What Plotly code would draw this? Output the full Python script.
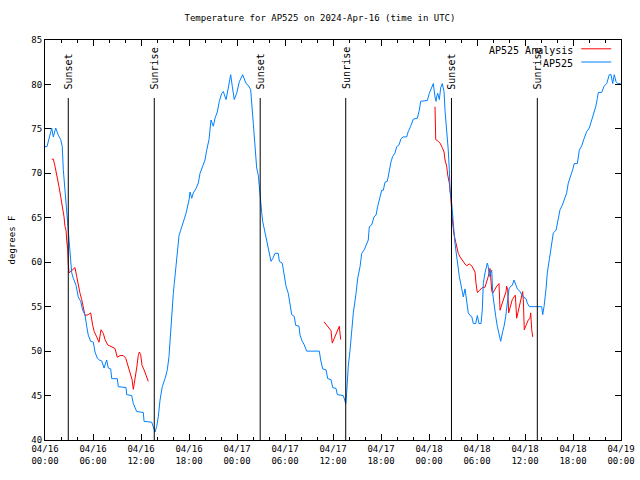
import pandas as pd
import plotly.graph_objects as go

# ---------------- data (hours since 2024-04-16 00:00 UTC) ----------------
obs_hours = [0.00, 0.25, 0.84, 1.04, 1.34, 1.66, 1.96, 2.16, 2.29, 2.50, 2.71, 2.84, 3.04, 3.21, 3.34, 3.54,
             3.88, 4.16, 4.46, 4.71, 5.00, 5.21, 5.41, 5.71, 6.04, 6.25, 6.54, 6.79, 7.09, 7.38, 7.71, 7.91,
             8.21, 8.34, 9.04, 9.16, 10.13, 10.21, 10.84, 11.04, 11.46, 12.29, 12.38, 13.34, 13.54, 13.75,
             13.96, 14.16, 14.38, 14.66, 15.00, 15.29, 15.50, 15.63, 15.75, 15.91, 16.04, 16.16, 16.34, 16.46,
             16.59, 16.75, 16.96, 17.16, 17.41, 17.63, 18.00, 18.13, 18.34, 18.54, 18.88, 19.16, 19.38, 19.71,
             20.00, 20.21, 20.50, 20.75, 21.04, 21.25, 21.54, 21.79, 22.09, 22.29, 22.63, 22.91, 23.21, 23.41,
             23.66, 23.96, 24.29, 24.71, 25.13, 25.41, 25.71, 26.04, 26.25, 26.46, 26.66, 26.88, 27.09, 27.21,
             27.50, 27.79, 28.04, 28.25, 28.46, 28.75, 29.16, 29.29, 29.66, 29.88, 30.13, 30.41, 30.63, 30.84,
             31.16, 31.34, 31.75, 31.88, 32.16, 32.41, 32.71, 34.29, 34.46, 34.71, 35.13, 35.34, 35.75, 35.96,
             36.38, 36.54, 37.29, 37.50, 37.59, 37.71, 37.91, 38.13, 38.34, 38.54, 38.88, 39.09, 39.38, 39.59,
             39.91, 40.13, 40.41, 40.54, 40.84, 41.13, 41.38, 41.59, 41.88, 42.09, 42.29, 42.50, 42.79, 43.04,
             43.25, 43.46, 43.75, 43.96, 44.25, 44.50, 44.79, 45.21, 45.41, 45.71, 46.04, 46.54, 46.79, 46.96,
             47.79, 48.04, 48.34, 48.54, 48.75, 48.88, 48.96, 49.09, 49.29, 49.46, 49.66, 49.88, 50.00, 50.21,
             50.41, 50.54, 50.63, 50.84, 50.96, 51.13, 51.25, 51.54, 51.79, 52.09, 52.29, 52.50, 52.63, 52.71,
             52.91, 53.13, 53.34, 53.54, 53.84, 54.04, 54.25, 54.50, 54.66, 54.79, 55.00, 55.29, 55.41, 55.54,
             55.84, 55.96, 56.13, 56.34, 56.54, 56.75, 56.96, 57.21, 57.38, 57.59, 57.79, 58.00, 58.21, 58.41,
             58.63, 58.84, 59.04, 59.29, 59.59, 59.79, 60.13, 60.29, 60.54, 62.09, 62.21, 62.38, 62.63, 62.79,
             63.04, 63.34, 63.54, 63.88, 64.16, 64.38, 64.66, 65.00, 65.21, 65.41, 65.71, 65.96, 66.16, 66.54,
             66.79, 67.09, 67.38, 67.71, 68.04, 68.34, 68.63, 68.84, 69.04, 69.16, 69.59, 69.88, 70.21, 70.54,
             70.75, 70.96, 71.16, 71.38, 71.59, 71.96]
obs_temps = [73.0, 73.0, 75.1, 74.1, 75.1, 74.3, 73.8, 73.0, 70.4, 68.1, 65.9, 63.9, 62.6, 59.9, 58.8, 58.2,
             57.4, 56.1, 55.6, 54.6, 54.1, 52.8, 51.8, 51.1, 51.0, 49.9, 49.2, 49.0, 48.9, 48.1, 49.0, 48.1,
             48.0, 46.9, 46.9, 46.0, 45.9, 45.1, 45.0, 44.1, 43.2, 43.1, 42.1, 42.0, 41.5, 40.9,
             41.5, 42.6, 44.5, 46.0, 46.9, 47.9, 49.4, 51.3, 53.5, 55.4, 56.5, 57.6, 59.5, 60.6,
             61.8, 63.0, 63.6, 64.2, 64.7, 65.5, 67.0, 67.9, 67.2, 67.8, 68.3, 68.9, 70.0, 70.9,
             71.5, 72.6, 73.8, 76.0, 75.3, 76.2, 76.9, 78.1, 79.0, 79.2, 78.3, 79.6, 81.1, 79.8,
             78.3, 79.0, 80.3, 81.1, 80.1, 79.9, 79.4, 75.6, 73.4, 70.6, 69.8, 67.2, 65.6, 64.6,
             63.4, 62.3, 61.2, 60.1, 60.4, 61.0, 61.0, 60.1, 59.9, 58.8, 57.3, 56.5, 55.4, 54.1,
             53.9, 52.9, 52.8, 51.8, 51.1, 50.7, 50.0, 50.0, 49.0, 48.0, 47.9, 46.9, 46.8, 45.9,
             45.8, 45.1, 45.0, 44.5, 44.1, 45.3, 48.3, 50.1, 52.2, 54.3, 56.5, 58.2, 59.5, 61.0,
             61.4, 61.9, 62.5, 64.0, 64.2, 65.1, 65.3, 66.3, 67.4, 68.1, 68.1, 69.0, 69.1, 70.4,
             71.3, 71.9, 72.3, 73.0, 73.2, 73.9, 74.1, 74.1, 74.7, 75.3, 76.1, 76.2, 77.1, 78.1,
             78.2, 79.0, 79.6, 80.1, 78.6, 78.1, 78.6, 79.0, 78.3, 79.6, 80.1, 79.2, 77.1, 74.9,
             72.6, 70.4, 68.1, 66.6, 64.8, 63.4, 62.1, 59.9, 58.4, 57.0, 56.1, 57.0, 56.3, 55.6,
             54.3, 54.0, 53.9, 53.1, 53.1, 54.0, 53.1, 53.1, 54.6, 57.6, 58.8, 59.9, 59.5, 58.4,
             59.1, 56.5, 55.0, 53.9, 52.8, 52.0, 51.1, 52.2, 52.8, 53.9, 55.8, 57.0, 57.3, 57.4,
             58.0, 57.4, 57.0, 56.8, 56.3, 56.1, 55.9, 55.4, 55.0, 55.0, 54.1, 55.0, 57.0, 58.8,
             60.3, 62.5, 63.3, 63.6, 64.8, 65.9, 66.4, 67.2, 67.8, 68.9, 69.6, 70.4, 71.1, 71.1,
             72.6, 73.1, 73.9, 74.7, 75.1, 76.0, 76.6, 77.5, 78.4, 79.1, 79.1, 79.8, 80.1, 81.1,
             81.1, 80.1, 81.1, 80.3, 80.1, 80.1]

# analysis series (None = gap between segments)
ana_hours = [0.84, 1.04, 1.25, 1.54, 1.75, 1.96, 2.21, 2.38, 2.50, 2.63, 2.71, 2.84, 2.91, 3.00, 3.13, 3.54,
             3.75, 3.96, 4.16, 4.38, 4.59, 4.79, 5.00, 5.41, 5.71, 5.96, 6.16, 6.46, 6.75, 7.00, 7.29, 7.50,
             7.84, 8.75, 9.04, 9.38, 9.79, 10.09, 10.34, 10.63, 10.88, 11.04, 11.25, 11.46, 11.66, 11.79, 11.96,
             12.13, 12.38, 12.63, 12.91,
             None,
             34.88, 35.21, 35.54, 35.75, 35.91, 36.13, 36.38, 36.66, 36.79, 36.96,
             None,
             48.75, 48.84, 49.16, 49.38, 49.66, 49.88, 50.00, 50.21, 50.34, 50.54, 50.71, 50.84, 50.96, 51.13,
             51.38, 51.66, 51.88, 52.09, 52.29, 52.50, 52.71, 53.04, 53.34, 53.54, 53.75, 53.88, 54.04, 54.29,
             54.59, 55.00, 55.21, 55.41, 55.63, 55.71, 55.84, 55.96, 56.25, 56.46, 56.75, 56.88, 57.16, 57.41,
             57.63, 57.71, 57.84, 57.96, 58.21, 58.41, 58.63, 58.79, 58.96, 59.16, 59.38, 59.59, 59.71, 59.79,
             59.91, 60.13, 60.41, 60.63, 60.71, 60.84, 60.96]
ana_temps = [71.6, 71.6, 70.8, 69.6, 68.5, 67.4, 66.1, 65.1, 64.0, 63.6, 62.5, 61.4, 59.9, 58.8, 58.9, 59.2,
             59.4, 58.4, 57.3, 56.5, 55.8, 54.8, 54.0, 54.1, 54.3, 52.9, 52.2, 51.6, 51.0, 52.4, 52.0, 51.3,
             50.7, 50.3, 49.3, 49.5, 49.5, 49.2, 48.4, 47.6, 46.8, 45.7, 46.8, 48.1, 49.5, 49.9, 49.6,
             48.4, 47.9, 47.2, 46.6,
             None,
             53.3, 52.9, 52.5, 52.3, 50.9, 51.4, 52.0, 52.7, 52.8, 51.3,
             None,
             77.5, 73.8, 73.6, 73.4, 72.9, 72.4, 71.5, 70.8, 69.8, 68.9, 67.4, 65.1, 64.4, 63.1,
             62.1, 61.0, 60.6, 60.3, 60.1, 59.8, 59.6, 59.8, 59.6, 59.3, 58.9, 57.6, 56.6, 56.8,
             57.1, 57.2, 57.8, 58.4, 59.3, 57.8, 56.8, 56.5, 57.0, 57.3, 57.6, 54.6, 55.4, 56.1,
             56.7, 57.3, 56.9, 54.3, 55.0, 55.8, 56.1, 56.3, 53.7, 54.6, 55.4, 56.2, 56.7, 55.8,
             52.4, 52.9, 53.5, 53.7, 54.3, 52.4, 51.6]

sun_hours = [2.91, 13.66, 26.90, 37.59, 50.81, 61.54]
sun_labels = ["Sunset", "Sunrise", "Sunset", "Sunrise", "Sunset", "Sunrise"]

y_ticks = [40, 45, 50, 55, 60, 65, 70, 75, 80, 85]

title_text = "Temperature for AP525 on 2024-Apr-16 (time in UTC)"
series_names = ["AP525 Analysis", "AP525"]
series_colors = ["#ff0000", "#0080ff"]

# ---------------- build ----------------
base = pd.Timestamp("2024-04-16 00:00")


def to_time(hours):
    return [None if h is None else base + pd.Timedelta(hours=h) for h in hours]


FONT = "DejaVu Sans Mono"

fig = go.Figure()
fig.add_trace(go.Scatter(x=to_time(ana_hours), y=ana_temps, mode="lines",
                         line=dict(color=series_colors[0], width=1), connectgaps=False,
                         name=series_names[0], showlegend=False))
fig.add_trace(go.Scatter(x=to_time(obs_hours), y=obs_temps, mode="lines",
                         line=dict(color=series_colors[1], width=1),
                         name=series_names[1], showlegend=False))

# sunrise / sunset markers
for h, lab in zip(sun_hours, sun_labels):
    t = base + pd.Timedelta(hours=h)
    fig.add_shape(type="line", x0=t, x1=t, xref="x", yref="paper", y0=0, y1=0.855,
                  line=dict(color="black", width=1))
    fig.add_annotation(x=t, xref="x", y=0.872, yref="paper", text=lab, textangle=-90,
                       showarrow=False, xanchor="center", yanchor="bottom",
                       font=dict(family=FONT, size=10, color="black"))

# legend drawn manually (text left of the line sample, as in the reference)
leg_y = [0.975, 0.942]
for name, col, yy in zip(series_names, series_colors, leg_y):
    fig.add_annotation(x=0.921, xref="paper", y=yy, yref="paper", text=name, showarrow=False,
                       xanchor="right", yanchor="middle", font=dict(family=FONT, size=10, color="black"))
    fig.add_shape(type="line", xref="paper", yref="paper", x0=0.931, x1=0.983, y0=yy + 0.003,
                  y1=yy + 0.003, line=dict(color=col, width=1))

fig.update_layout(
    width=640, height=480,
    margin=dict(l=45, r=19, t=40, b=40, autoexpand=False),
    paper_bgcolor="white", plot_bgcolor="white",
    title=dict(text=title_text, x=0.5, xanchor="center", y=0.962, yanchor="middle",
               font=dict(family=FONT, size=9, color="black")),
    font=dict(family=FONT, size=9, color="black"),
    showlegend=False,
)
fig.update_xaxes(
    type="date", automargin=False,
    range=[base, base + pd.Timedelta(hours=72)],
    tick0=base, dtick=6 * 3600 * 1000,
    tickformat="%m/%d<br>%H:%M",
    ticks="inside", ticklen=6, tickcolor="black", tickwidth=1,
    minor=dict(dtick=2 * 3600 * 1000, ticks="inside", ticklen=3, tickcolor="black"),
    showline=True, linecolor="black", linewidth=1, mirror="allticks",
    showgrid=False, zeroline=False,
    tickfont=dict(family=FONT, size=9, color="black"),
)
fig.update_yaxes(
    automargin=False,
    range=[40, 85], tickvals=y_ticks,
    ticks="inside", ticklen=6, tickcolor="black", tickwidth=1,
    showline=True, linecolor="black", linewidth=1, mirror="allticks",
    showgrid=False, zeroline=False,
    title=dict(text="degrees F", font=dict(family=FONT, size=9, color="black"), standoff=14),
    tickfont=dict(family=FONT, size=9, color="black"),
)

fig.write_html("out.html")
